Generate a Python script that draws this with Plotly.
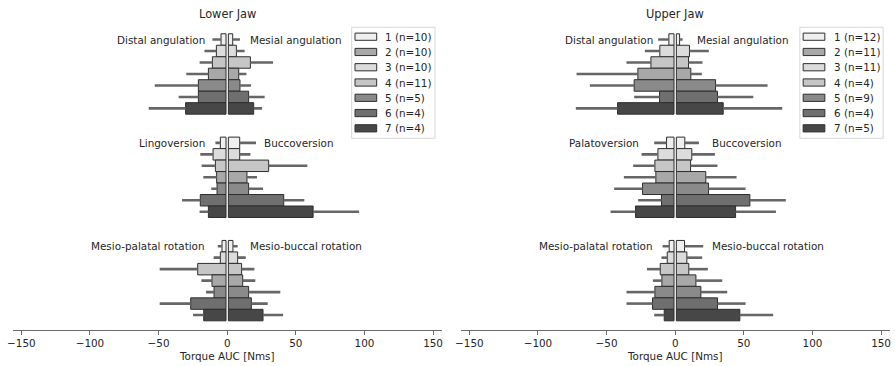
import plotly.graph_objects as go

W, H = 895, 366

# ---------------- data ----------------
panel_titles = ["Lower Jaw", "Upper Jaw"]
bar_ids = [1, 2, 3, 4, 5, 6, 7]

# groups: angulation, version, rotation ; values are means (negative side / positive side)
lower_neg_mean = [
    [-4.5, -7.9, -10.8, -13.7, -21.0, -21.0, -30.3],
    [-5.0, -10.3, -8.6, -7.7, -7.4, -19.6, -13.7],
    [-3.8, -5.0, -21.5, -11.1, -9.6, -26.6, -17.1],
]
lower_neg_sd = [
    [6.3, 8.7, 9.3, 16.1, 31.8, 14.4, 26.9],
    [3.6, 9.3, 10.0, 9.7, 4.2, 13.3, 6.4],
    [3.1, 4.9, 27.7, 7.7, 5.8, 22.6, 7.8],
]
lower_pos_mean = [
    [4.0, 6.7, 16.9, 8.4, 9.3, 15.6, 19.3],
    [9.1, 9.1, 30.2, 14.4, 15.6, 41.2, 62.6],
    [4.2, 7.6, 10.5, 11.3, 15.6, 17.6, 26.1],
]
lower_pos_sd = [
    [5.3, 6.0, 16.5, 5.6, 8.1, 11.7, 6.1],
    [11.9, 7.8, 28.2, 7.3, 10.5, 15.0, 33.5],
    [3.4, 5.9, 9.3, 9.2, 23.1, 11.9, 14.6],
]

upper_neg_mean = [
    [-4.6, -11.2, -17.7, -27.2, -29.9, -11.4, -42.0],
    [-6.3, -12.6, -14.8, -14.1, -23.8, -10.0, -28.9],
    [-4.4, -5.8, -10.9, -9.7, -14.8, -16.5, -8.0],
]
upper_neg_sd = [
    [7.8, 10.9, 17.8, 44.7, 32.3, 18.5, 30.4],
    [9.0, 11.9, 15.8, 23.3, 20.7, 17.0, 18.2],
    [4.8, 4.2, 9.7, 6.6, 20.7, 19.0, 7.3],
]
upper_pos_mean = [
    [3.2, 10.4, 9.7, 11.4, 29.4, 30.8, 35.0],
    [7.0, 12.1, 11.2, 22.3, 24.3, 54.4, 44.0],
    [6.8, 8.5, 9.9, 15.1, 18.7, 30.8, 47.1],
]
upper_pos_sd = [
    [2.2, 14.1, 10.2, 8.0, 37.9, 26.1, 43.0],
    [10.3, 16.8, 19.6, 22.4, 27.0, 26.2, 29.4],
    [13.6, 11.2, 13.9, 19.2, 19.2, 20.5, 24.3],
]

lower_neg_labels = ["Distal angulation", "Lingoversion", "Mesio-palatal rotation"]
lower_pos_labels = ["Mesial angulation", "Buccoversion", "Mesio-buccal rotation"]
upper_neg_labels = ["Distal angulation", "Palatoversion", "Mesio-palatal rotation"]
upper_pos_labels = ["Mesial angulation", "Buccoversion", "Mesio-buccal rotation"]

lower_legend = ["1 (n=10)", "2 (n=10)", "3 (n=10)", "4 (n=11)", "5 (n=5)", "6 (n=4)", "7 (n=4)"]
upper_legend = ["1 (n=12)", "2 (n=11)", "3 (n=11)", "4 (n=4)", "5 (n=9)", "6 (n=4)", "7 (n=5)"]

tick_vals = [-150, -100, -50, 0, 50, 100, 150]
tick_text = ["\u2212150", "\u2212100", "\u221250", "0", "50", "100", "150"]
x_title = "Torque AUC [Nms]"

# ---------------- styles ----------------
bar_colors = ["#efefef", "#dcdcdc", "#c6c6c6", "#a8a8a8", "#8a8a8a", "#6f6f6f", "#474747"]
legend_colors = ["#efefef", "#a8a8a8", "#dcdcdc", "#c6c6c6", "#8a8a8a", "#6f6f6f", "#474747"]
edge_color = "#2e2e2e"
err_color = "#666666"
text_color = "#262626"
FONT = "DejaVu Sans"
FS = 10.4
GAP = 0.85          # white gap around zero (data units)
GROUP_STEP = 9

# label placements (data units): left labels right-anchored, right labels left-anchored
label_x = {
    0: ([-15.3, -15.4, -15.4], [15.6, 25.8, 15.6]),
    1: ([-15.3, -25.3, -15.5], [15.5, 25.8, 26.0]),
}

X_RANGE = [-156.3, 156.3]
Y_RANGE = [25.3, -1.37]
Y_DOM = [1 - 330.0 / H, 1 - 23.8 / H]
X_DOMS = [[12.7 / W, 441.7 / W], [460.7 / W, 889.7 / W]]
ZERO_PX = [226.85, 675.0]

panels = [
    (lower_neg_mean, lower_neg_sd, lower_pos_mean, lower_pos_sd,
     lower_neg_labels, lower_pos_labels, lower_legend),
    (upper_neg_mean, upper_neg_sd, upper_pos_mean, upper_pos_sd,
     upper_neg_labels, upper_pos_labels, upper_legend),
]

fig = go.Figure()
annotations = []
shapes = []

for p, (nm, nsd, pm, psd, nlab, plab, leg) in enumerate(panels):
    xa = "x" if p == 0 else "x2"
    ya = "y" if p == 0 else "y2"
    ypos, colors = [], []
    neg_vals, pos_vals, neg_sd, pos_sd = [], [], [], []
    for g in range(3):
        for i in range(len(bar_ids)):
            ypos.append(GROUP_STEP * g + i)
            colors.append(bar_colors[i])
            neg_vals.append(nm[g][i])
            pos_vals.append(pm[g][i])
            neg_sd.append(nsd[g][i])
            pos_sd.append(psd[g][i])

    # bars (negative side then positive side), leaving a thin white gap at zero
    fig.add_trace(go.Bar(
        y=ypos, x=[v + GAP for v in neg_vals], base=[-GAP] * len(ypos),
        orientation="h", width=1.0,
        marker=dict(color=colors, line=dict(color=edge_color, width=1)),
        xaxis=xa, yaxis=ya, hoverinfo="skip", showlegend=False))
    fig.add_trace(go.Bar(
        y=ypos, x=[v - GAP for v in pos_vals], base=[GAP] * len(ypos),
        orientation="h", width=1.0,
        marker=dict(color=colors, line=dict(color=edge_color, width=1)),
        xaxis=xa, yaxis=ya, hoverinfo="skip", showlegend=False))

    # outward error lines
    ex, ey = [], []
    for y, v, s in zip(ypos, neg_vals, neg_sd):
        ex += [v, v - s, None]
        ey += [y, y, None]
    for y, v, s in zip(ypos, pos_vals, pos_sd):
        ex += [v, v + s, None]
        ey += [y, y, None]
    fig.add_trace(go.Scatter(
        x=ex, y=ey, mode="lines", line=dict(color=err_color, width=2.6),
        xaxis=xa, yaxis=ya, hoverinfo="skip", showlegend=False))

    # group labels
    lx_neg, lx_pos = label_x[p]
    for g in range(3):
        annotations.append(dict(
            x=lx_neg[g], y=GROUP_STEP * g, xref=xa, yref=ya, text=nlab[g],
            showarrow=False, xanchor="right", yanchor="middle",
            font=dict(family=FONT, size=FS, color=text_color), borderpad=0))
        annotations.append(dict(
            x=lx_pos[g], y=GROUP_STEP * g, xref=xa, yref=ya, text=plab[g],
            showarrow=False, xanchor="left", yanchor="middle",
            font=dict(family=FONT, size=FS, color=text_color), borderpad=0))

    z = ZERO_PX[p]
    # panel title
    annotations.append(dict(
        x=(X_DOMS[p][0] + X_DOMS[p][1]) / 2, y=1 - 14.0 / H, xref="paper", yref="paper",
        text=panel_titles[p], showarrow=False, xanchor="center", yanchor="middle",
        font=dict(family=FONT, size=11.4, color=text_color)))
    # x axis title
    annotations.append(dict(
        x=z / W, y=1 - 355.5 / H, xref="paper", yref="paper",
        text=x_title, showarrow=False, xanchor="center", yanchor="middle",
        font=dict(family=FONT, size=FS, color=text_color)))

    # legend (drawn manually to mimic wide swatches)
    bx0, bx1 = z + 124.85, z + 208.15
    by0, by1 = 27.3, 138.3
    shapes.append(dict(type="rect", xref="paper", yref="paper",
                       x0=bx0 / W, x1=bx1 / W, y0=1 - by1 / H, y1=1 - by0 / H,
                       line=dict(color="#d6d6d6", width=1), fillcolor="rgba(255,255,255,0.85)",
                       layer="above"))
    for k, lab in enumerate(leg):
        cy = 36.7 + k * 15.27
        shapes.append(dict(type="rect", xref="paper", yref="paper",
                           x0=(z + 128.15) / W, x1=(z + 149.85) / W,
                           y0=1 - (cy + 3.6) / H, y1=1 - (cy - 3.6) / H,
                           line=dict(color=edge_color, width=1), fillcolor=legend_colors[k],
                           layer="above"))
        annotations.append(dict(
            x=(z + 157.6) / W, y=1 - cy / H, xref="paper", yref="paper",
            text=lab, showarrow=False, xanchor="left", yanchor="middle",
            font=dict(family=FONT, size=FS, color=text_color), borderpad=0))

axis_common = dict(
    range=X_RANGE, showline=True, linecolor="#6a6a6a", linewidth=1.1,
    ticks="outside", ticklen=3.5, tickcolor="#6a6a6a", tickwidth=1,
    tickvals=tick_vals, ticktext=tick_text, showgrid=False, zeroline=False,
    automargin=False,
    tickfont=dict(family=FONT, size=FS, color=text_color), fixedrange=True)
yaxis_common = dict(range=Y_RANGE, domain=Y_DOM, visible=False, fixedrange=True,
                    automargin=False)

fig.update_layout(
    width=W, height=H, margin=dict(l=0, r=0, t=0, b=0, autoexpand=False),
    paper_bgcolor="white", plot_bgcolor="white",
    barmode="overlay", showlegend=False,
    font=dict(family=FONT, size=FS, color=text_color),
    xaxis=dict(domain=X_DOMS[0], anchor="y", **axis_common),
    xaxis2=dict(domain=X_DOMS[1], anchor="y2", **axis_common),
    yaxis=dict(anchor="x", **yaxis_common),
    yaxis2=dict(anchor="x2", **yaxis_common),
    annotations=annotations, shapes=shapes,
)

fig.write_html(
    "out.html",
    config={"displayModeBar": False},
    post_script="document.body.style.margin='0';document.body.style.overflow='hidden';",
)
